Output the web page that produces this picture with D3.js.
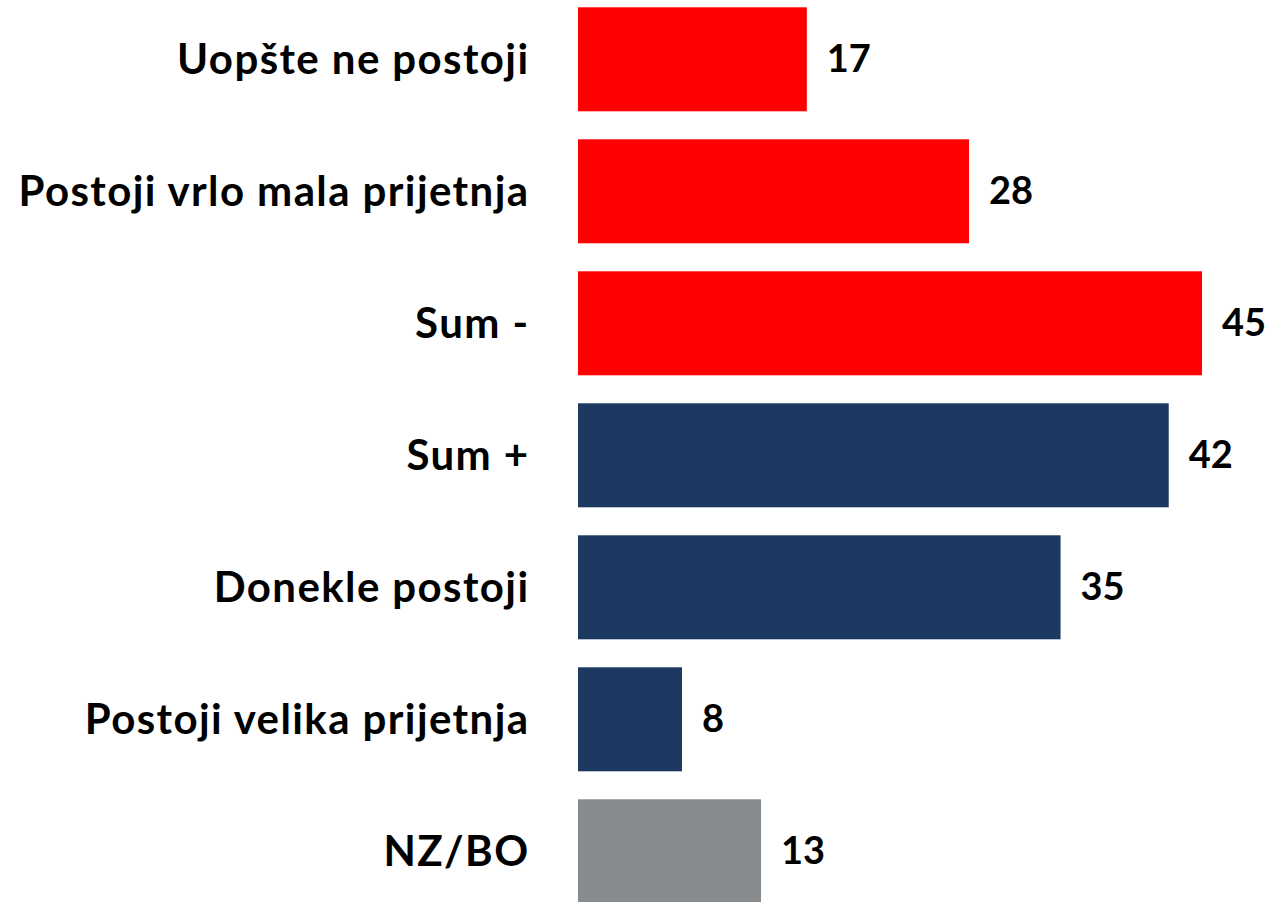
<!DOCTYPE html>
<html>
<head>
<meta charset="utf-8">
<script src="https://cdn.jsdelivr.net/npm/d3@7"></script>
<style>
  body { margin: 0; background: #fff; }
  text { font-family: Lato, "Open Sans", sans-serif; font-weight: bold; fill: #000; }
</style>
</head>
<body>
<div class="chart"></div>
<script>
var svgWidth = 1269;
var svgHeight = 902;

// data
var categories = ["Uopšte ne postoji", "Postoji vrlo mala prijetnja", "Sum -", "Sum +",
                  "Donekle postoji", "Postoji velika prijetnja", "NZ/BO"];
var values = [16.5, 28.2, 45, 42.6, 34.8, 7.5, 13.2];
var valueLabels = ["17", "28", "45", "42", "35", "8", "13"];
var groups = ["neg", "neg", "neg", "pos", "pos", "pos", "na"];

var colors = { neg: "#ff0000", pos: "#1b3961", na: "#888b8d" };

var rows = categories.map(function (c, i) {
  return { cat: c, value: values[i], label: valueLabels[i], group: groups[i] };
});

var svg = d3.select(".chart")
  .append("svg")
  .attr("width", svgWidth)
  .attr("height", svgHeight);

var x_scale = d3.scaleLinear()
  .domain([0, 45])
  .range([578, 1202]);

var y_scale = d3.scaleBand()
  .domain(categories)
  .range([-6.7, 917.3])
  .paddingInner(0.212)
  .paddingOuter(0.106);

// bars
svg.selectAll("rect.bar")
  .data(rows)
  .enter()
  .append("rect")
  .attr("class", "bar")
  .attr("x", x_scale(0))
  .attr("y", d => y_scale(d.cat))
  .attr("width", d => x_scale(d.value) - x_scale(0))
  .attr("height", y_scale.bandwidth())
  .attr("fill", d => colors[d.group]);

// category labels
svg.selectAll("text.cat")
  .data(rows)
  .enter()
  .append("text")
  .attr("class", "cat")
  .attr("x", 529.5)
  .attr("y", d => y_scale(d.cat) + y_scale.bandwidth() / 2)
  .attr("dy", "0.35em")
  .attr("text-anchor", "end")
  .style("font-size", "42px")
  .style("letter-spacing", "1.4px")
  .text(d => d.cat);

// value labels
svg.selectAll("text.val")
  .data(rows)
  .enter()
  .append("text")
  .attr("class", "val")
  .attr("x", d => x_scale(d.value) + 20)
  .attr("y", d => y_scale(d.cat) + y_scale.bandwidth() / 2 - 1)
  .attr("dy", "0.35em")
  .style("font-size", "38px")
  .text(d => d.label);
</script>
</body>
</html>
